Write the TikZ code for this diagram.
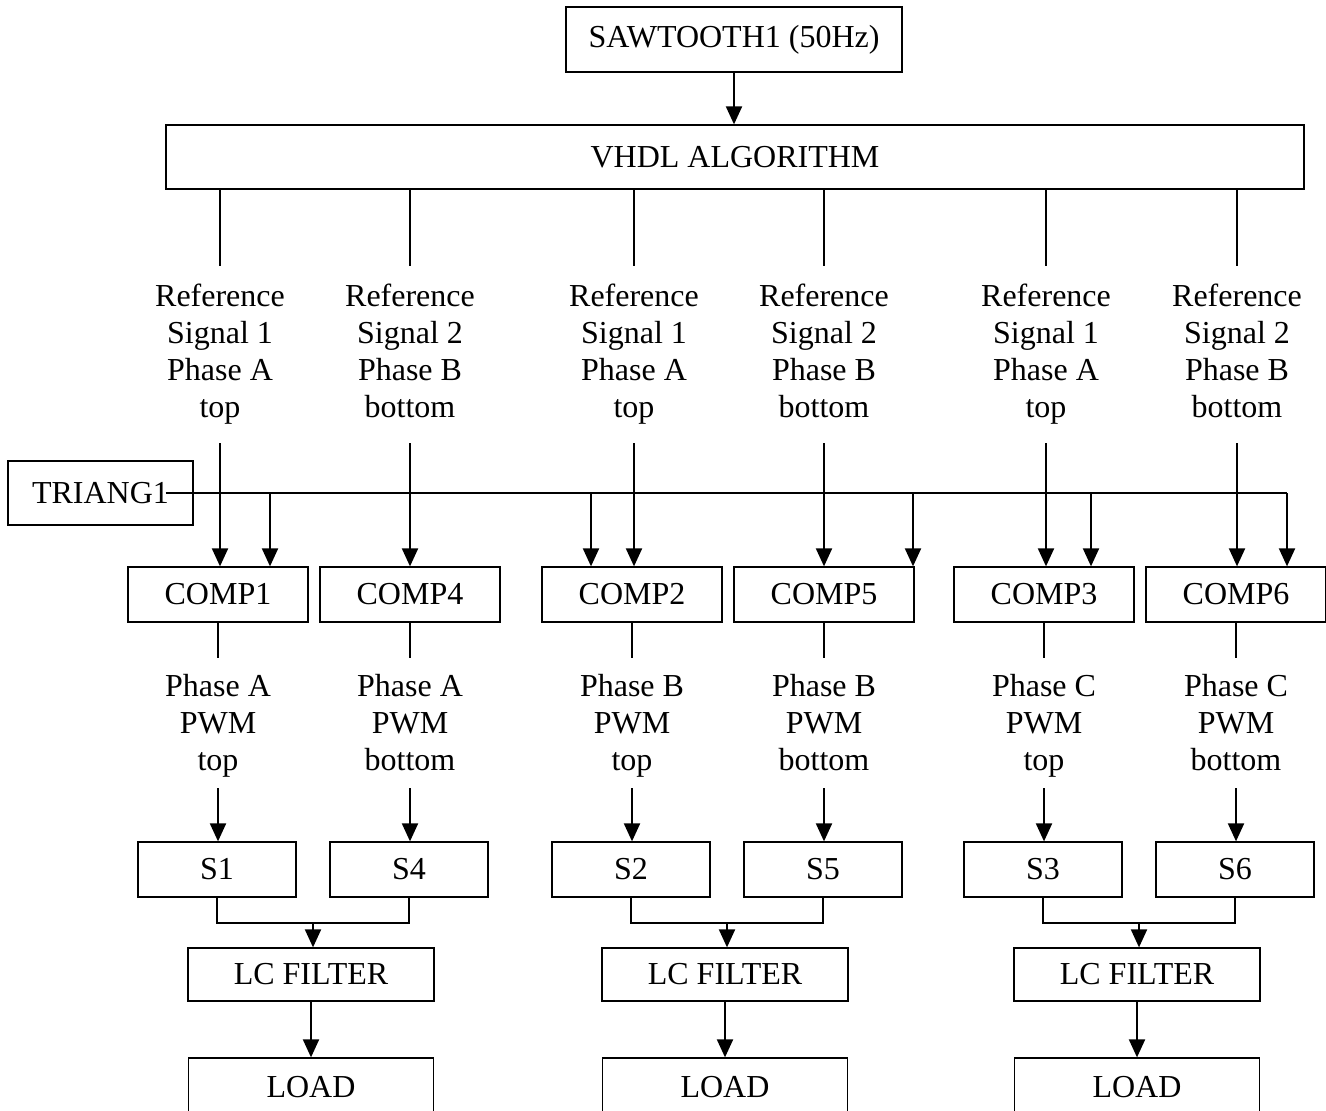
\documentclass[tikz,border=0pt]{standalone}
\usepackage{fontspec}
\setmainfont{Liberation Serif}
\usepackage{tikz}
\usetikzlibrary{arrows.meta,positioning,calc}
\newcommand{\dfont}{\fontsize{16pt}{18.5pt}\selectfont}

\begin{document}
\begin{tikzpicture}[x=0.5pt, y=-0.5pt, every node/.style={font=\dfont}, box/.style={draw, line width=0.65pt, inner sep=0pt, minimum height=27.5pt}, comp/.style={box, minimum width=90pt}, sw/.style={box, minimum width=79pt}, lc/.style={box, minimum width=123pt, minimum height=26.5pt}, txt/.style={align=center, inner sep=0pt}, ln/.style={line width=1pt}, arr/.style={-{Triangle[length=9pt,width=8pt]}, line width=1pt}]
\useasboundingbox (0,0) rectangle (1326,1110);
% sources
\node[box, minimum width=168pt, minimum height=32.5pt] (saw) at (734,39.5) {SAWTOOTH1 (50Hz)};
\node[box, minimum width=569pt, minimum height=32pt] (vhdl) at (735,157) {VHDL ALGORITHM};
\node[box, minimum width=92.5pt, minimum height=32pt] (tri) at (100.5,493) {TRIANG1};
\draw[arr] (saw.south) -- (saw.south |- vhdl.north);
% reference signals
\node[txt, minimum height=87pt] (r1) at (220,356) {Reference\\Signal 1\\Phase A\\top\strut};\node[txt, minimum height=87pt] (r4) at (410,356) {Reference\\Signal 2\\Phase B\\bottom\strut};
\node[txt, minimum height=87pt] (r2) at (634,356) {Reference\\Signal 1\\Phase A\\top\strut};\node[txt, minimum height=87pt] (r5) at (824,356) {Reference\\Signal 2\\Phase B\\bottom\strut};
\node[txt, minimum height=87pt] (r3) at (1046,356) {Reference\\Signal 1\\Phase A\\top\strut};\node[txt, minimum height=87pt] (r6) at (1237,356) {Reference\\Signal 2\\Phase B\\bottom\strut};
% comparators
\node[comp] (c1) at (218,594.5) {COMP1};\node[comp] (c4) at (410,594.5) {COMP4};
\node[comp] (c2) at (632,594.5) {COMP2};\node[comp] (c5) at (824,594.5) {COMP5};
\node[comp] (c3) at (1044,594.5) {COMP3};\node[comp] (c6) at (1236,594.5) {COMP6};
% pwm outputs
\node[txt, minimum height=60pt] (p1) at (218,728) {Phase A\\PWM\\top\strut};\node[txt, minimum height=60pt] (p4) at (410,728) {Phase A\\PWM\\bottom\strut};
\node[txt, minimum height=60pt] (p2) at (632,728) {Phase B\\PWM\\top\strut};\node[txt, minimum height=60pt] (p5) at (824,728) {Phase B\\PWM\\bottom\strut};
\node[txt, minimum height=60pt] (p3) at (1044,728) {Phase C\\PWM\\top\strut};\node[txt, minimum height=60pt] (p6) at (1236,728) {Phase C\\PWM\\bottom\strut};
% switches, filters, loads
\node[sw] (s1) at (217,869.5) {S1};\node[sw] (s4) at (409,869.5) {S4};
\node[sw] (s2) at (631,869.5) {S2};\node[sw] (s5) at (823,869.5) {S5};
\node[sw] (s3) at (1043,869.5) {S3};\node[sw] (s6) at (1235,869.5) {S6};
\node[lc] (lc1) at (311,974.5) {LC FILTER};\node[lc] (lc2) at (725,974.5) {LC FILTER};\node[lc] (lc3) at (1137,974.5) {LC FILTER};
\node[box, minimum width=122.5pt, minimum height=29pt] (l1) at (311,1087) {LOAD};\node[box, minimum width=122.5pt, minimum height=29pt] (l2) at (725,1087) {LOAD};\node[box, minimum width=122.5pt, minimum height=29pt] (l3) at (1137,1087) {LOAD};
% algorithm to comparators
\draw[ln] (r1 |- vhdl.south) -- ++(0,76);\draw[ln] (r4 |- vhdl.south) -- ++(0,76);\draw[ln] (r2 |- vhdl.south) -- ++(0,76);
\draw[ln] (r5 |- vhdl.south) -- ++(0,76);\draw[ln] (r3 |- vhdl.south) -- ++(0,76);\draw[ln] (r6 |- vhdl.south) -- ++(0,76);
\draw[arr] (r1.south) -- (r1.south |- c1.north);\draw[arr] (r4.south) -- (r4.south |- c4.north);\draw[arr] (r2.south) -- (r2.south |- c2.north);
\draw[arr] (r5.south) -- (r5.south |- c5.north);\draw[arr] (r3.south) -- (r3.south |- c3.north);\draw[arr] (r6.south) -- (r6.south |- c6.north);
% carrier bus
\coordinate (bus) at ([xshift=-14pt]tri.east);
\draw[ln] (bus) -- ([xshift=44.5pt]c5.north |- bus);
\draw[line width=0.65pt] ([xshift=44.5pt]c5.north |- bus) -- ([xshift=25.5pt]c6.north |- bus);
\draw[arr] ([xshift=26pt]c1.north |- bus) -- ([xshift=26pt]c1.north);\draw[arr] ([xshift=-20.5pt]c2.north |- bus) -- ([xshift=-20.5pt]c2.north);
\draw[arr] ([xshift=44.5pt]c5.north |- bus) -- ([xshift=44.5pt]c5.north);\draw[arr] ([xshift=23.5pt]c3.north |- bus) -- ([xshift=23.5pt]c3.north);
\draw[arr] ([xshift=25.5pt]c6.north |- bus) -- ([xshift=25.5pt]c6.north);
% comparators to switches
\draw[ln] (c1.south) -- ++(0,35);\draw[ln] (c4.south) -- ++(0,35);\draw[ln] (c2.south) -- ++(0,35);
\draw[ln] (c5.south) -- ++(0,35);\draw[ln] (c3.south) -- ++(0,35);\draw[ln] (c6.south) -- ++(0,35);
\draw[arr] (p1.south) -- (p1.south |- s1.north);\draw[arr] (p4.south) -- (p4.south |- s4.north);\draw[arr] (p2.south) -- (p2.south |- s2.north);
\draw[arr] (p5.south) -- (p5.south |- s5.north);\draw[arr] (p3.south) -- (p3.south |- s3.north);\draw[arr] (p6.south) -- (p6.south |- s6.north);
% legs to filters
\coordinate (m1) at ($(s1.south)!0.5!(s4.south)+(0,25)$);\coordinate (m2) at ($(s2.south)!0.5!(s5.south)+(0,25)$);\coordinate (m3) at ($(s3.south)!0.5!(s6.south)+(0,25)$);
\draw[ln] (s1.south) |- (m1) -| (s4.south);\draw[ln] (s2.south) |- (m2) -| (s5.south);\draw[ln] (s3.south) |- (m3) -| (s6.south);
\draw[arr] (m1) -- (m1 |- lc1.north);\draw[arr] (m2) -- (m2 |- lc2.north);\draw[arr] (m3) -- (m3 |- lc3.north);
\draw[arr] (lc1.south) -- (l1.north);\draw[arr] (lc2.south) -- (l2.north);\draw[arr] (lc3.south) -- (l3.north);
\end{tikzpicture}
\end{document}
